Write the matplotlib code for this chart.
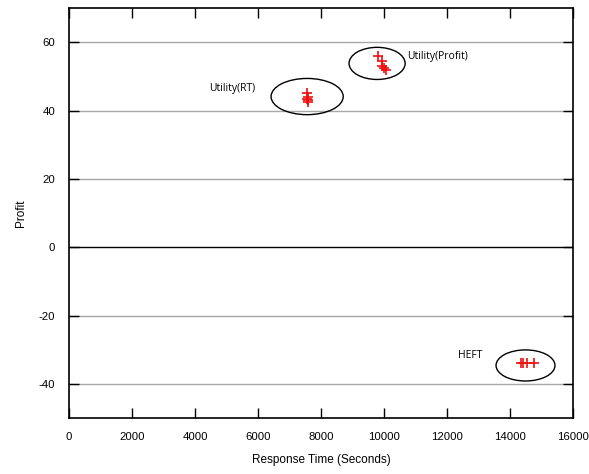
import matplotlib
matplotlib.use("Agg")
import matplotlib.pyplot as plt
from matplotlib.patches import Ellipse

plt.rcParams["axes.unicode_minus"] = False

# response time (s) and profit per run
rt_x = [7550, 7600, 7550, 7600, 7580]
rt_y = [45.0, 44.0, 43.5, 43.0, 42.5]
profit_x = [9800, 9950, 9950, 10000, 10050]
profit_y = [56.0, 54.5, 53.0, 52.5, 52.0]
heft_x = [14350, 14400, 14550, 14750]
heft_y = [-34.0, -34.0, -34.0, -34.0]

# group outlines: (centre x, centre y, width, height) and label text/position
groups = ["Utility(RT)", "Utility(Profit)", "HEFT"]
group_ellipses = [(7560, 44.1, 2290, 10.6), (9780, 53.8, 1780, 9.4), (14490, -34.6, 1870, 9.1)]
label_pos = [(4440, 46.5), (10730, 55.9), (12350, -31.8)]

xticks = list(range(0, 16001, 2000))
yticks = [-40, -20, 0, 20, 40, 60]

tick_font = "Liberation Sans"
note_font = "Open Sans"

fig = plt.figure(figsize=(5.89, 4.74), dpi=100)
ax = fig.add_axes([0.117, 0.118, 0.856, 0.865])

for y in yticks:
    ax.axhline(y, color="black" if y == 0 else "#a8a8a8", lw=1.0, zorder=1)

for xs, ys in [(rt_x, rt_y), (profit_x, profit_y), (heft_x, heft_y)]:
    ax.plot(xs, ys, linestyle="none", marker="+", color="#ee1111",
            markersize=7, markeredgewidth=1.2, zorder=3)

for (cx, cy, w, h), name, (lx, ly) in zip(group_ellipses, groups, label_pos):
    ax.add_patch(Ellipse((cx, cy), w, h, fill=False, edgecolor="black", lw=1.0, zorder=2))
    ax.text(lx, ly, name, fontsize=7.5, family=note_font, va="center", ha="left")

ax.set_xlim(0, 16000)
ax.set_ylim(-50, 70)
ax.set_xticks(xticks)
ax.set_yticks(yticks)
ax.tick_params(direction="in", length=7, width=1, top=True, right=True,
               labelsize=8.2, pad=10)
for lbl in ax.get_xticklabels() + ax.get_yticklabels():
    lbl.set_family(tick_font)
for s in ax.spines.values():
    s.set_linewidth(1.2)

ax.set_xlabel("Response Time (Seconds)", fontsize=8.5, family=tick_font, labelpad=9)
ax.set_ylabel("Profit", fontsize=8.5, family=tick_font, labelpad=8)

fig.savefig("out.png", dpi=100)
